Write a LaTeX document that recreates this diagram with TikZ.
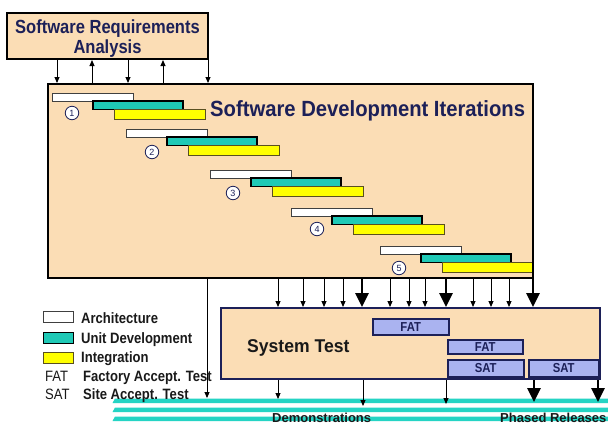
\documentclass[tikz,border=0pt]{standalone}
\usepackage{fontspec}
\setmainfont{Liberation Sans}
\newfontfamily\narr[FakeStretch=0.87]{Liberation Sans}
\newfontfamily\narrb[FakeStretch=0.92]{Liberation Sans}
\newfontfamily\narrc[FakeStretch=0.95]{Liberation Sans}
\usetikzlibrary{arrows.meta}
\definecolor{tanc}{HTML}{FBDDB5}
\definecolor{tealc}{HTML}{1FC9B6}
\definecolor{yelc}{HTML}{FFFF00}
\definecolor{lavc}{HTML}{AAB3F0}
\definecolor{navyc}{HTML}{1C2058}
\definecolor{stripec}{HTML}{25D4C4}
\definecolor{olivec}{HTML}{5A5020}
\begin{document}
\begin{tikzpicture}[x=1pt,y=-1pt,
  bigbox/.style={draw=black, line width=2pt, fill=tanc, inner sep=0pt},
  arr/.style={line width=0.9pt, -{Triangle[length=6pt,width=5pt]}},
  bigarr/.style={line width=2.6pt, -{Triangle[length=14pt,width=13pt]}},
  testbox/.style={draw=navyc, line width=1.5pt, fill=lavc, inner sep=0pt, anchor=north west,
    font=\narr\bfseries\fontsize{13}{13}\selectfont, text=navyc},
  num/.style={circle, draw=navyc, fill=white, line width=0.8pt, inner sep=0pt,
    minimum size=13.5pt, font=\fontsize{9}{9}\selectfont, text=navyc},
  archbar/.style={draw=black!75, line width=0.8pt, fill=white},
  unitbar/.style={draw=black, line width=1.6pt, fill=tealc},
  intbar/.style={draw=olivec, line width=0.9pt, fill=yelc},
  legtext/.style={anchor=base west, inner sep=0pt, font=\narr\bfseries\fontsize{15}{15}\selectfont, text=black!90},
  bottext/.style={anchor=base west, inner sep=0pt, font=\bfseries\fontsize{13}{13}\selectfont, text=black!90}
]
\useasboundingbox[fill=white] (0,0) rectangle (608,424);

% bottom stripes
\foreach \yt in {398.5,407.5,416.5}
  \fill[stripec] (115,\yt) -- (608,\yt) -- (608,\yt+4.5) -- (112.5,\yt+4.5) -- cycle;
\coordinate (stripe) at (0,402);

% Software Requirements Analysis
\node[bigbox, minimum width=201pt, minimum height=46pt] (sra) at (107.5,36) {};
\node[anchor=base, inner sep=0pt, align=center, text=navyc,
      font=\narr\bfseries\fontsize{19}{20}\selectfont] (sratext) at (107.5,53)
      {Software Requirements\\Analysis};

% main box
\node[bigbox, minimum width=485pt, minimum height=194pt] (main) at (290.5,181) {};
\node[anchor=base west, inner sep=0pt, text=navyc,
      font=\narrb\bfseries\fontsize{22}{22}\selectfont] (title) at (210,116)
      {Software Development Iterations};

% arrows between requirements and main
\foreach \x in {57,128,208} \draw[arr] (sra.south -| \x,0) -- (main.north -| \x,0);
\foreach \x in {92,163} \draw[arr] (main.north -| \x,0) -- (sra.south -| \x,0);

% iterations
\foreach \xo/\yo/\cx/\cy/\n in {52/93/72/113/1, 126/129/152/152/2, 210/170/233/193/3, 291/208/317/229/4, 380/246/399/268/5}{
  \draw[archbar] (\xo,\yo) rectangle (\xo+81,\yo+8.5);
  \draw[unitbar] (\xo+41,\yo+8) rectangle (\xo+131,\yo+16.5);
  \draw[intbar] (\xo+62,\yo+16.5) rectangle (\xo+153,\yo+26);
  \node[num] (c\n) at (\cx,\cy) {\n};
}

% system test box
\node[bigbox, draw=navyc, minimum width=379pt, minimum height=71pt] (st) at (410.5,343.5) {};
\node[anchor=base west, inner sep=0pt, text=black!90, font=\narrc\bfseries\fontsize{18.5}{18.5}\selectfont]
  (sttext) at (247,352) {System Test};
\node[testbox, minimum width=76pt, minimum height=16pt] (fat1) at (372,318) {FAT};
\node[testbox, minimum width=75pt, minimum height=14pt] (fat2) at (447,339) {FAT};
\node[testbox, minimum width=76pt, minimum height=17pt] (sat1) at (447,359) {SAT};
\node[testbox, minimum width=70pt, minimum height=17pt] (sat2) at (528,359) {SAT};

% main -> system test
\foreach \x in {278,303,324,343,390,409,425,473,491,509}
  \draw[arr] (main.south -| \x,0) -- (st.north -| \x,0);
\draw[bigarr] (main.south -| 362,0) -- (st.north -| 362,0);
\draw[bigarr] (main.south -| 446,0) -- (st.north -| 446,0);
\draw[bigarr] (533,253) -- (st.north -| 533,0);

% to releases
\draw[arr] (main.south -| 207,0) -- (207,398);
\draw[arr] (st.south -| 278,0) -- (278,399);
\draw[arr] (st.south -| 363,0) -- (363,406);
\draw[arr] (st.south -| 446,0) -- (446,404);
\draw[bigarr] (st.south -| 534,0) -- (stripe -| 534,0);
\draw[bigarr] (st.south -| 598,0) -- (stripe -| 598,0);

\node[bottext] (demo) at (272,422) {Demonstrations};
\node[bottext] (phased) at (500,422) {Phased Releases};

% legend
\draw[archbar] (43,311) rectangle (73,322);
\draw[draw=black, line width=1pt, fill=tealc] (43,332) rectangle (73,343);
\draw[intbar] (43,352) rectangle (73,363);
\node[legtext] (l1) at (81,323) {Architecture};
\node[legtext] (l2) at (81,343) {Unit Development};
\node[legtext] (l3) at (81,362.5) {Integration};
\node[legtext, font=\narr\fontsize{15}{15}\selectfont] (l4a) at (45,381) {FAT};
\node[legtext] (l4b) at (83,381) {Factory Accept. Test};
\node[legtext, font=\narr\fontsize{15}{15}\selectfont] (l5a) at (45,399) {SAT};
\node[legtext] (l5b) at (83,399) {Site Accept. Test};
\end{tikzpicture}
\end{document}
